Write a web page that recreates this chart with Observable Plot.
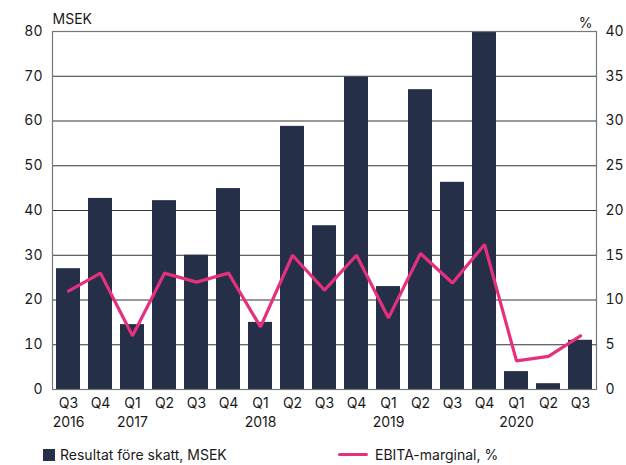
<!DOCTYPE html>
<html><head><meta charset="utf-8">
<script src="https://cdn.jsdelivr.net/npm/d3@7"></script>
<script src="https://cdn.jsdelivr.net/npm/@observablehq/plot@0.6"></script>
<style>
body{margin:0;background:#fff;font-family:Inter,"Noto Sans",sans-serif;color:#1a1a1a}
#wrap{position:relative;width:626px;height:465px}
.leg{position:absolute;font-size:14px;line-height:17px;top:446px;white-space:nowrap}
</style>
</head><body><div id="wrap"><div id="chart"></div>
<div class="leg" style="left:43px"><span style="display:inline-block;width:12px;height:12px;background:#252f48;vertical-align:-1px;margin-right:5px"></span>Resultat före skatt, MSEK</div>
<div class="leg" style="left:338px"><span style="display:inline-block;width:30px;height:3px;background:#e5307e;vertical-align:4px;margin-right:7px;border-radius:2px"></span>EBITA-marginal, %</div>
</div>
<script>
const periods = ["2016Q3","2016Q4","2017Q1","2017Q2","2017Q3","2017Q4","2018Q1","2018Q2","2018Q3","2018Q4","2019Q1","2019Q2","2019Q3","2019Q4","2020Q1","2020Q2","2020Q3"];
const quarterLabels = ["Q3","Q4","Q1","Q2","Q3","Q4","Q1","Q2","Q3","Q4","Q1","Q2","Q3","Q4","Q1","Q2","Q3"];
const yearLabels = ["2016","","2017","","","","2018","","","","2019","","","","2020","",""];
const profit = [27.0,42.7,14.5,42.2,30.0,44.9,15.0,58.8,36.6,69.8,23.0,67.0,46.3,80.0,4.0,1.3,11.0];
const ebitaMargin = [11.0,13.0,6.0,13.0,12.0,13.0,7.0,15.0,11.1,15.0,8.0,15.2,11.9,16.2,3.2,3.7,6.0];
const leftTicks = [0,10,20,30,40,50,60,70,80];

const rows = periods.map((p,i)=>({p, q:quarterLabels[i], y:yearLabels[i], profit:profit[i], margin:ebitaMargin[i]}));
const qOf = new Map(rows.map(r=>[r.p,r.q]));
const yOf = new Map(rows.map(r=>[r.p,r.y]));

const chart = Plot.plot({
  width:626, height:440,
  marginLeft:52, marginRight:30, marginTop:31, marginBottom:51,
  style:{fontFamily:'Inter,"Noto Sans",sans-serif', fontSize:"14px", color:"#1a1a1a", background:"#fff"},
  x:{type:"band", domain:periods, paddingInner:0.25, paddingOuter:0.125},
  y:{domain:[0,80]},
  marks:[
    Plot.ruleY(leftTicks.filter(d=>d>0&&d<80), {stroke:"#333", strokeWidth:1}),
    Plot.barY(rows, {x:"p", y:"profit", fill:"#252f48"}),
    Plot.line(rows, {x:"p", y:d=>d.margin*2, stroke:"#e5307e", strokeWidth:3.2, strokeLinejoin:"miter"}),
    Plot.frame({stroke:"#777", strokeWidth:1.2}),
    Plot.axisY(leftTicks, {anchor:"left", tickSize:0, tickPadding:10, label:null, fontSize:14}),
    Plot.axisY(leftTicks, {anchor:"right", tickSize:0, tickPadding:9, tickFormat:d=>d/2, label:null, fontSize:14}),
    Plot.axisX(periods, {tickSize:0, tickPadding:9, tickFormat:d=>qOf.get(d), label:null, fontSize:14}),
    Plot.axisX(periods, {tickSize:0, tickPadding:9, dy:19, tickFormat:d=>yOf.get(d), label:null, fontSize:14}),
    Plot.text(["MSEK"], {frameAnchor:"top-left", text:d=>d, dy:-17, textAnchor:"start", fontSize:14}),
    Plot.text(["%"], {frameAnchor:"top-right", text:d=>d, dy:-13, dx:-4, textAnchor:"end", fontSize:14})
  ]
});
document.getElementById("chart").appendChild(chart);
</script></body></html>
